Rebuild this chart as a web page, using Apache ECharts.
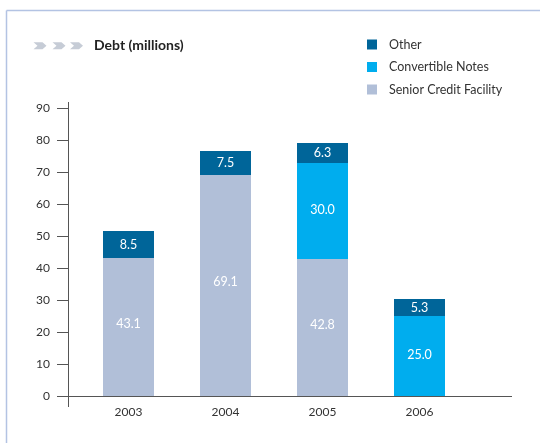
<!DOCTYPE html>
<html>
<head>
<meta charset="utf-8">
<script src="https://cdn.jsdelivr.net/npm/echarts@6/dist/echarts.min.js"></script>
<style>
  html, body { margin: 0; padding: 0; background: #fff; }
  #chart { width: 540px; height: 443px; }
</style>
</head>
<body>
<div id="chart"></div>
<script>
// debt in millions
const years = ['2003', '2004', '2005', '2006'];
const senior = [43.1, 69.1, 42.8, null];
const convertible = [null, null, 30.0, 25.0];
const other = [8.5, 7.5, 6.3, 5.3];
const yTicks = [0, 10, 20, 30, 40, 50, 60, 70, 80, 90];

const FONT = 'Lato';
const AXIS = '#555';

let chart = echarts.init(document.getElementById('chart'), null, { renderer: 'canvas' });

function chevron(x) {
  return {
    type: 'polygon',
    shape: { points: [[x, 42.3], [x + 9, 42.3], [x + 13, 45.8], [x + 9, 49.3], [x, 49.3], [x + 4, 45.8]] },
    style: { fill: '#c6ccd6' },
    silent: true
  };
}

function barLabel(dy) {
  return {
    show: true,
    position: 'inside',
    offset: [0, dy],
    color: '#fff',
    fontFamily: FONT,
    fontSize: 12.5,
    formatter: (p) => p.value.toFixed(1)
  };
}

let option = {
  backgroundColor: '#fff',
  animation: false,
  textStyle: { fontFamily: FONT },
  title: {
    text: 'Debt (millions)',
    left: 89,
    top: 33,
    textStyle: { fontFamily: FONT, fontSize: 14, fontWeight: 'bold', color: '#222' }
  },
  legend: {
    data: ['Other', 'Convertible Notes', 'Senior Credit Facility'],
    orient: 'vertical',
    left: 362,
    top: 33,
    icon: 'rect',
    itemWidth: 10,
    itemHeight: 10,
    itemGap: 9.5,
    textStyle: { fontFamily: FONT, fontSize: 12.5, color: '#333', padding: [0, 0, 0, 7] }
  },
  grid: { left: 80, right: 72, top: 108, bottom: 47 },
  xAxis: {
    type: 'category',
    data: years,
    axisLine: { show: false },
    axisTick: { show: false },
    axisLabel: { color: '#333', fontSize: 12, fontFamily: FONT, margin: 10 }
  },
  yAxis: {
    type: 'value',
    min: yTicks[0],
    max: yTicks[yTicks.length - 1],
    interval: 10,
    offset: 12,
    splitLine: { show: false },
    axisLine: { show: false },
    axisTick: { show: true, length: 11, lineStyle: { color: AXIS, width: 1 } },
    axisLabel: { color: '#333', fontSize: 12, fontFamily: FONT, margin: 18 }
  },
  series: [
    {
      name: 'Senior Credit Facility',
      type: 'bar',
      stack: 'debt',
      barWidth: 51,
      data: senior,
      itemStyle: { color: '#b1bfd8' },
      label: barLabel(-3)
    },
    {
      name: 'Convertible Notes',
      type: 'bar',
      stack: 'debt',
      data: convertible,
      itemStyle: { color: '#00adee' },
      label: barLabel(-1)
    },
    {
      name: 'Other',
      type: 'bar',
      stack: 'debt',
      data: other,
      itemStyle: { color: '#006599' },
      label: barLabel(0)
    }
  ],
  graphic: [
    // frame
    { type: 'line', shape: { x1: 6.5, y1: 10.5, x2: 540, y2: 10.5 }, style: { stroke: '#b3c3e3', lineWidth: 1.5 }, silent: true },
    { type: 'line', shape: { x1: 6.5, y1: 10.5, x2: 6.5, y2: 443 }, style: { stroke: '#b3c3e3', lineWidth: 1.5 }, silent: true },
    // axis lines, drawn a bit past the plot area like the original
    { type: 'line', shape: { x1: 68.5, y1: 102, x2: 68.5, y2: 407 }, style: { stroke: AXIS, lineWidth: 1 }, silent: true },
    { type: 'line', shape: { x1: 68, y1: 396.5, x2: 512, y2: 396.5 }, style: { stroke: AXIS, lineWidth: 1 }, silent: true },
    chevron(33.5),
    chevron(52.5),
    chevron(70)
  ]
};

chart.setOption(option);
window.addEventListener('resize', chart.resize);
</script>
</body>
</html>
